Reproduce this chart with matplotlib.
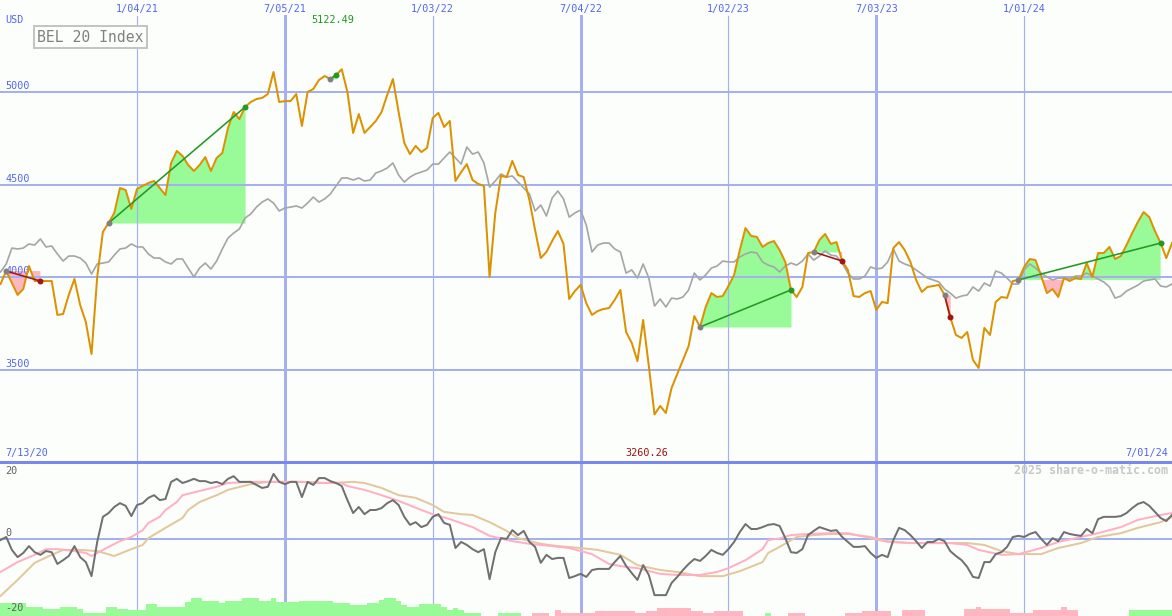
import numpy as np
import pandas as pd
import matplotlib
matplotlib.use("Agg")
import matplotlib.pyplot as plt
import matplotlib.transforms as mtransforms
from matplotlib.lines import Line2D

W, H = 1172, 616

# ---------------- data ----------------
dates = pd.date_range("2020-07-20", "2024-07-01", freq="7D")   # weekly, 207 points

bel20 = [
    3964, 4034, 3969, 3905, 3937, 4061, 3980, 3980, 3980, 3980,
    3797, 3802, 3905, 3991, 3851, 3759, 3586, 4002, 4245, 4293,
    4347, 4482, 4471, 4369, 4477, 4493, 4509, 4520, 4482, 4444,
    4617, 4682, 4655, 4606, 4574, 4606, 4649, 4574, 4644, 4671,
    4806, 4892, 4854, 4919, 4946, 4962, 4968, 4989, 5108, 4946,
    4951, 4951, 4989, 4817, 5000, 5016, 5065, 5086, 5070, 5092,
    5122.49, 5000, 4779, 4881, 4779, 4811, 4844, 4892, 4984, 5070,
    4892, 4725, 4665, 4709, 4676, 4698, 4860, 4887, 4811, 4844,
    4520, 4568, 4611, 4525, 4504, 4493, 4002, 4347, 4547, 4541,
    4628, 4552, 4541, 4417, 4255, 4104, 4137, 4196, 4250, 4180,
    3883, 3926, 3959, 3861, 3797, 3818, 3829, 3834, 3878, 3932,
    3705, 3646, 3548, 3770, 3521, 3260.26, 3306, 3268, 3403, 3478,
    3554, 3629, 3791, 3732, 3840, 3915, 3894, 3899, 3953, 4013,
    4147, 4266, 4223, 4218, 4164, 4185, 4196, 4147, 4083, 3932,
    3894, 3948, 4131, 4137, 4201, 4234, 4180, 4190, 4088, 4040,
    3899, 3894, 3915, 3926, 3824, 3867, 3861, 4158, 4190, 4147,
    4083, 3986, 3921, 3948, 3953, 3959, 3905, 3786, 3689, 3673,
    3705, 3554, 3511, 3727, 3689, 3867, 3894, 3889, 3980, 3986,
    4056, 4099, 4093, 4007, 3915, 3937, 3894, 3996, 3980, 3996,
    3991, 4077, 4002, 4131, 4131, 4164, 4099, 4115, 4174, 4239,
    4299, 4352, 4325, 4250, 4185, 4104, 4185,
]

compare = [
    4029, 4072, 4158, 4153, 4158, 4180, 4174, 4207, 4164, 4169,
    4126, 4088, 4115, 4115, 4104, 4077, 4018, 4072, 4077, 4083,
    4120, 4153, 4158, 4180, 4164, 4164, 4126, 4104, 4104, 4083,
    4072, 4099, 4099, 4050, 4002, 4050, 4077, 4045, 4088, 4153,
    4212, 4239, 4261, 4320, 4342, 4379, 4406, 4423, 4401, 4358,
    4374, 4379, 4385, 4374, 4401, 4433, 4406, 4423, 4450, 4493,
    4536, 4536, 4525, 4536, 4520, 4525, 4563, 4574, 4590, 4617,
    4552, 4514, 4541, 4558, 4568, 4579, 4611, 4611, 4644, 4676,
    4644, 4611, 4703, 4665, 4676, 4617, 4487, 4520, 4558, 4541,
    4547, 4514, 4482, 4450, 4358, 4390, 4331, 4428, 4466, 4423,
    4325, 4347, 4363, 4282, 4137, 4174, 4185, 4185, 4153, 4137,
    4023, 4040, 3996, 4072, 3996, 3845, 3883, 3840, 3888, 3883,
    3894, 3932, 4023, 3986, 4013, 4050, 4061, 4088, 4083, 4083,
    4110, 4126, 4137, 4131, 4083, 4066, 4056, 4029, 4061, 4077,
    4066, 4088, 4126, 4093, 4115, 4142, 4120, 4115, 4077, 4023,
    3991, 3991, 4007, 4056, 4045, 4050, 4083, 4153, 4088, 4072,
    4061, 4040, 4018, 3996, 3986, 3975, 3937, 3915, 3888, 3899,
    3905, 3948, 3926, 3969, 3953, 4034, 4023, 3996, 3964, 3964,
    4040, 4072, 4050, 4023, 4002, 3986, 3996, 3996, 3991, 4007,
    4007, 4023, 4007, 3991, 3975, 3948, 3888, 3899, 3926, 3942,
    3958, 3980, 3986, 3991, 3953, 3948, 3964,
]

momentum = [
    -0.4, 0.4, -3.0, -4.9, -3.8, -2.0, -3.6, -4.3, -3.3, -3.6,
    -6.7, -5.7, -4.6, -2.0, -4.9, -6.2, -9.9, -0.9, 5.7, 6.7,
    8.3, 9.3, 8.6, 5.9, 8.8, 9.3, 10.7, 11.4, 10.1, 10.4,
    14.9, 15.7, 14.6, 15.1, 15.7, 15.1, 15.1, 14.6, 14.9, 14.3,
    15.7, 16.4, 14.9, 14.9, 14.9, 14.1, 13.3, 13.6, 17.0, 14.9,
    14.3, 14.9, 14.9, 10.9, 14.9, 14.1, 15.9, 15.9, 15.1, 14.6,
    13.8, 10.1, 6.7, 8.3, 6.4, 7.5, 7.5, 8.0, 9.3, 10.1,
    8.8, 5.7, 3.6, 4.3, 3.0, 3.6, 5.7, 6.4, 4.1, 3.6,
    -2.5, -0.9, -1.7, -2.8, -3.6, -2.8, -10.7, -3.6, 0.1, -0.1,
    2.2, 0.9, 2.0, -0.9, -2.2, -6.4, -4.3, -5.4, -5.1, -5.1,
    -10.4, -9.9, -9.3, -10.1, -8.3, -8.0, -8.0, -8.0, -6.2, -4.6,
    -7.2, -9.1, -10.9, -7.0, -9.6, -14.9, -14.9, -14.9, -11.7, -10.1,
    -8.3, -6.7, -5.4, -5.9, -4.6, -3.0, -3.8, -4.3, -2.8, -0.9,
    1.7, 3.8, 2.5, 2.5, 3.0, 3.6, 3.8, 3.3, 0.1, -3.6,
    -3.8, -2.8, 0.9, 2.0, 3.0, 2.5, 2.0, 2.2, 0.4, -0.9,
    -2.2, -2.2, -2.0, -3.8, -5.1, -4.3, -4.9, -0.4, 2.8, 2.2,
    0.9, -0.7, -2.5, -0.9, -0.9, -0.1, -0.7, -3.3, -4.6, -5.7,
    -7.5, -10.1, -10.4, -6.2, -6.2, -4.1, -3.6, -2.2, 0.4, 0.7,
    0.4, 1.2, 1.7, -0.1, -1.7, 0.1, -0.7, 1.7, 1.2, 0.9,
    0.7, 2.5, 1.4, 5.1, 5.7, 5.7, 5.7, 5.9, 6.7, 8.0,
    9.1, 9.6, 8.6, 7.0, 5.4, 4.6, 6.2,
]

ma_fast_weeks = [1, 4, 7, 9, 11, 14, 16, 17, 18, 20, 22, 24, 26, 27, 29, 30, 32, 33, 36, 39,
                 41, 45, 54, 57, 61, 62, 65, 68, 71, 75, 77, 80, 84, 87, 91, 94, 98, 101, 105, 108,
                 111, 113, 117, 120, 124, 127, 129, 132, 135, 136, 138, 140, 143, 147, 150, 154, 157, 161, 168, 171,
                 173, 177, 180, 184, 187, 191, 194, 198, 201, 205, 207]
ma_fast = [-8.8, -6.2, -4.3, -2.8, -2.8, -3.3, -3.8, -4.6, -3.8, -2.2, -0.7, 0.4, 2.2, 4.1, 5.7, 7.5, 9.6, 11.4, 12.5, 13.6,
           14.6, 14.9, 14.9, 14.6, 14.6, 13.8, 12.8, 11.4, 9.9, 7.5, 6.4, 5.1, 3.0, 0.7, -0.7, -1.4, -2.0, -2.5, -4.1, -6.7,
           -7.5, -7.8, -9.3, -9.6, -9.6, -8.8, -7.8, -5.7, -2.8, -0.4, 0.0, 0.9, 1.2, 1.4, 1.4, 0.1, -0.9, -1.2, -1.2, -1.7,
           -3.0, -4.3, -4.1, -2.5, -0.9, 0.4, 1.4, 3.0, 4.9, 6.2, 6.7]

ma_slow_weeks = [1, 4, 7, 10, 12, 15, 18, 21, 24, 26, 27, 30, 33, 34, 36, 39, 41, 45, 48, 54,
                 59, 63, 65, 68, 71, 74, 77, 79, 82, 84, 87, 90, 92, 96, 99, 103, 106, 110, 113, 117,
                 120, 124, 128, 131, 135, 136, 138, 141, 144, 147, 150, 154, 157, 161, 171, 174, 177, 180, 184, 187,
                 191, 194, 198, 201, 205, 207]
ma_slow = [-15.1, -10.9, -6.4, -4.3, -3.0, -3.0, -3.3, -4.6, -2.8, -1.7, 0.1, 2.8, 5.4, 7.5, 9.6, 11.4, 12.8, 14.3, 14.9, 14.9,
           14.6, 14.9, 14.6, 13.3, 11.4, 10.7, 8.8, 7.0, 6.4, 6.2, 4.3, 2.0, 0.1, -1.4, -2.0, -2.5, -3.0, -4.3, -7.0, -8.3,
           -8.8, -9.9, -9.9, -8.6, -6.2, -3.8, -2.2, 0.4, 0.9, 1.2, 1.2, 0.4, -0.7, -1.2, -1.2, -1.7, -3.3, -4.1, -4.1, -2.5,
           -1.2, 0.4, 1.4, 2.8, 4.3, 5.7]

hist = [
    3.4, 3.4, 3.4, 3.4, 3.4, 2.4, 2.4, 2.4, 1.8, 1.8,
    1.8, 2.4, 2.4, 2.4, 1.8, 0.8, 0.8, 0.8, 0.8, 2.4,
    2.4, 1.8, 1.8, 1.6, 1.6, 1.6, 3.2, 3.2, 2.4, 2.4,
    2.4, 2.4, 2.4, 3.7, 4.7, 4.7, 3.9, 3.9, 3.9, 3.4,
    3.9, 3.9, 3.9, 4.7, 4.7, 4.7, 3.9, 3.9, 4.7, 3.7,
    3.7, 3.7, 3.7, 3.9, 3.9, 3.9, 3.9, 3.9, 3.9, 3.4,
    3.4, 3.4, 2.9, 2.9, 2.9, 3.4, 3.4, 4.2, 4.7, 4.7,
    3.9, 2.9, 2.4, 2.4, 3.2, 3.2, 3.2, 3.2, 2.4, 1.6,
    2.1, 1.6, 0.8, 0.8, 0.8, 0, 0, 0, 0.8, 0.8,
    0.8, 0.8, 0, 0, -0.8, -0.8, -0.8, 0, -1.6, -0.8,
    -0.8, -0.8, -0.8, -0.8, -0.8, -1.3, -1.3, -1.3, -1.3, -1.3,
    -1.3, -1.3, -0.8, -0.8, -1.3, -1.3, -2.1, -2.1, -2.1, -2.1,
    -2.1, -2.1, -1.3, -1.3, -0.8, -0.8, -1.3, -1.3, -1.3, -1.3,
    -1.3, 0, 0, 0, 0, 0.8, 0, 0, 0, -0.8,
    -0.8, -0.8, 0, 0, 0, 0, 0, 0, 0, -0.8,
    -0.8, -0.8, -1.3, -1.3, -1.3, -1.3, -1.3, 0, 0, -1.6,
    -1.6, -1.6, -1.6, 0, 0, 0, 0, 0, 0, 0,
    -1.8, -1.8, -2.4, -1.8, -1.8, -1.8, -1.8, -1.8, -0.8, -0.8,
    -0.8, -0.8, -1.6, -1.6, -1.6, -1.6, -1.6, -2.4, -1.6, -1.6,
    0, 0, 0, 0, 0, 0, 0, 0, 0, 1.6,
    1.6, 1.6, 1.6, 1.6, 1.6, 1.6, 1.6,
]

# trend segments (start week, end week), 1-based week numbers
trends = [(2, 8), (20, 44), (59, 60), (124, 140), (144, 149), (167, 168), (180, 205)]

price_levels = [3500, 4000, 4500, 5000]
tick_dates = ["2021-01-04", "2021-07-05", "2022-01-03", "2022-07-04",
              "2023-01-02", "2023-07-03", "2024-01-01"]
tick_labels = ["1/04/21", "7/05/21", "1/03/22", "7/04/22", "1/02/23", "7/03/23", "1/01/24"]
tick_major = [False, True, False, True, False, True, False]
osc_labels = [(20, "20"), (0, "0"), (-20, "-20")]

# ---------------- style ----------------
BG = "#fcfefc"
GRID = "#a4b0f0"
SEP = "#7888ee"
BLUE_TXT = "#5366ee"
ORANGE = "#dc9200"
GRAY = "#a6a6a6"
GREEN_FILL = "#98fb98"
PINK_FILL = "#ffb6c1"
GREEN_LINE = "#229922"
RED_LINE = "#a31515"
MONO = "DejaVu Sans Mono"
PX = 0.72  # points per pixel at dpi 100

arr = np.array(bel20, dtype=float)
cmp_arr = np.array(compare, dtype=float)

fig = plt.figure(figsize=(W / 100, H / 100), dpi=100, facecolor=BG)
ax = fig.add_axes([0, 154 / H, 1, 462 / H], facecolor=BG)
ax2 = fig.add_axes([0, 0, 1, 154 / H], facecolor=BG)

xmin = pd.Timestamp("2020-07-13") + pd.Timedelta(days=6.34)
xmax = pd.Timestamp("2024-07-01")
for a in (ax, ax2):
    a.set_xlim(xmin, xmax)
    a.set_xticks([])
    a.set_yticks([])
    for s in a.spines.values():
        s.set_visible(False)

ax.set_ylim(3003.6, 5496.4)
ax2.set_ylim(-20.39, 20.13)

# grid
for lvl in price_levels:
    ax.axhline(lvl, color=GRID, lw=2 * PX, zorder=2)
for d, major in zip(tick_dates, tick_major):
    lw = (3 if major else 1.2) * PX
    ax.axvline(pd.Timestamp(d), ymin=0, ymax=(462 - 16) / 462, color=GRID, lw=lw, zorder=2)
    ax2.axvline(pd.Timestamp(d), color=GRID, lw=lw, zorder=1)
ax2.axhline(0, color=GRID, lw=2 * PX, zorder=2)
fig.add_artist(Line2D([0, 1], [154 / H, 154 / H], transform=fig.transFigure,
                      color=SEP, lw=3 * PX, zorder=10))

# trend fills
for s, e in trends:
    xs = dates[s - 1:e]
    ys = arr[s - 1:e]
    base = arr[s - 1]
    ax.fill_between(xs, ys, base, where=ys >= base, interpolate=True,
                    color=GREEN_FILL, lw=0, zorder=1)
    ax.fill_between(xs, ys, base, where=ys <= base, interpolate=True,
                    color=PINK_FILL, lw=0, zorder=1)

# price lines
ax.plot(dates, cmp_arr, color=GRAY, lw=1.7 * PX, zorder=3)
ax.plot(dates, arr, color=ORANGE, lw=2 * PX, zorder=4)

# trend lines and markers
for s, e in trends:
    c = GREEN_LINE if arr[e - 1] > arr[s - 1] else RED_LINE
    ax.plot([dates[s - 1], dates[e - 1]], [arr[s - 1], arr[e - 1]], color=c, lw=1.6 * PX, zorder=5)
    ax.plot([dates[s - 1]], [arr[s - 1]], "o", color="#808080", ms=4.3, mew=0, zorder=6)
    ax.plot([dates[e - 1]], [arr[e - 1]], "o", color=c, ms=4.3, mew=0, zorder=6)

# oscillator panel
h = np.array(hist, dtype=float)
bar_bottom = -21.0
cols = [GREEN_FILL if v > 0 else PINK_FILL for v in h]
ax2.bar(dates, np.abs(h) + (-20.39 - bar_bottom), bottom=bar_bottom, width=7.0,
        color=cols, lw=0, align="center", zorder=2)
ax2.plot(dates[np.array(ma_slow_weeks) - 1], ma_slow, color="#e2c89a", lw=2 * PX, zorder=3)
ax2.plot(dates[np.array(ma_fast_weeks) - 1], ma_fast, color="#ffb0c4", lw=2 * PX, zorder=4)
ax2.plot(dates, momentum, color="#707070", lw=2 * PX, zorder=5)

# ---------------- text ----------------
def fx(x):
    return x / W

def fy(y):
    return 1 - y / H

tfs = 7.3
fig.text(fx(5), fy(20), "USD", ha="left", va="center", color=BLUE_TXT, fontsize=tfs, family=MONO)
blend_top = mtransforms.blended_transform_factory(ax.transData, fig.transFigure)
for d, lab in zip(tick_dates, tick_labels):
    ax.text(pd.Timestamp(d), fy(9), lab, transform=blend_top, ha="center", va="center",
            color=BLUE_TXT, fontsize=tfs, family=MONO, zorder=7)

lab_tr = mtransforms.offset_copy(
    mtransforms.blended_transform_factory(ax.transAxes, ax.transData), fig=fig, x=0, y=6, units="dots")
for lvl in price_levels:
    ax.text(fx(5), lvl, str(lvl), transform=lab_tr, ha="left", va="center",
            color=BLUE_TXT, fontsize=tfs, family=MONO, zorder=3)

imax = int(np.argmax(arr))
imin = int(np.argmin(arr))
tr_max = mtransforms.offset_copy(blend_top, fig=fig, x=-9, y=0, units="dots")
ax.text(dates[imax], fy(20), f"{arr[imax]:.2f}", transform=tr_max, ha="center", va="center",
        color="#1f9a1f", fontsize=tfs, family=MONO, zorder=7)
tr_min = mtransforms.offset_copy(blend_top, fig=fig, x=-8, y=0, units="dots")
ax.text(dates[imin], fy(453), f"{arr[imin]:.2f}", transform=tr_min, ha="center", va="center",
        color="#a01010", fontsize=tfs, family=MONO, zorder=7)

fig.text(fx(5), fy(453), "7/13/20", ha="left", va="center", color=BLUE_TXT, fontsize=tfs, family=MONO)
fig.text(fx(1168), fy(453), "7/01/24", ha="right", va="center", color=BLUE_TXT, fontsize=tfs, family=MONO)

fig.text(fx(37), fy(37), "BEL 20 Index", ha="left", va="center", color="#808080",
         fontsize=10.6, family=MONO, zorder=8,
         bbox=dict(boxstyle="square,pad=0.22", facecolor=BG, edgecolor="#c4c4c4", lw=2 * PX))

fig.text(fx(1168), fy(471), "2025 share-o-matic.com", ha="right", va="center", color="#c8c8c8",
         fontsize=8.4, family=MONO, weight="bold", zorder=8)

osc_pos = {20: 471, 0: 533, -20: 608}
for v, lab in osc_labels:
    fig.text(fx(5), fy(osc_pos[v]), lab, ha="left", va="center", color="#606060",
             fontsize=tfs, family=MONO, zorder=8)

fig.savefig("out.png", dpi=100, facecolor=BG)
